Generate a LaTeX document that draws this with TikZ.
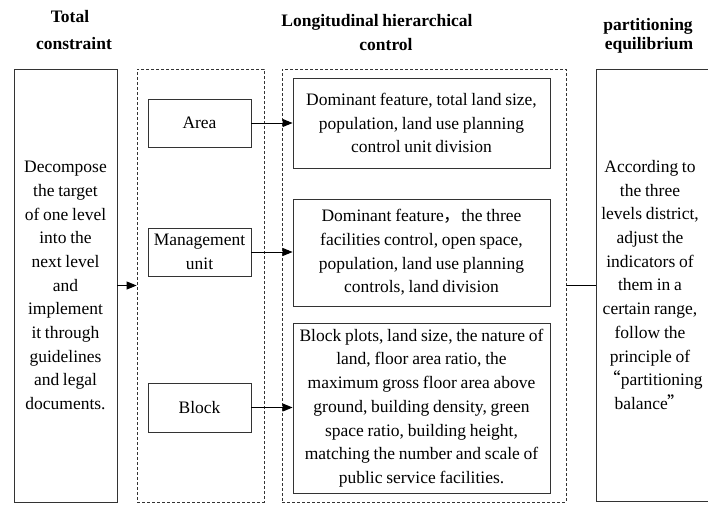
\documentclass[tikz,border=0pt]{standalone}
\usepackage{fontspec}
\setmainfont{Liberation Serif}[WordSpace=0.85]
\newfontfamily\cjkfont{Noto Sans CJK SC}[RawFeature=+fwid]
\usetikzlibrary{arrows.meta}
\begin{document}
\begin{tikzpicture}[x=1pt,y=-1pt,
  every node/.style={font=\fontsize{17.5}{23.7}\selectfont},
  box/.style={draw=black!80, line width=0.9pt, inner sep=2pt, align=center},
  cont/.style={draw=black!80, line width=0.8pt, dash pattern=on 3pt off 2pt, inner sep=0pt},
  head/.style={font=\bfseries\fontsize{17.5}{22}\selectfont, inner sep=0pt},
  arr/.style={draw=black, line width=0.9pt, -{Triangle[length=10pt,width=8pt]}},
  link/.style={draw=black, line width=0.9pt}
]
\useasboundingbox (0,0) rectangle (708,504);
\clip (0,0) rectangle (708,504);

% headers
\node[head, anchor=base] (h1a) at (70,22) {Total};
\node[head, anchor=base] (h1b) at (74,49) {constraint};
\node[head, anchor=base] (h2a) at (377,26) {Longitudinal hierarchical};
\node[head, anchor=base] (h2b) at (386,50) {control};
\node[head, anchor=base] (h3a) at (648,30) {partitioning};
\node[head, anchor=base] (h3b) at (649,49) {equilibrium};

% left box
\node[box, minimum width=103pt, minimum height=433pt] (lbox) at (65.5,285.5)
  {Decompose\\the target\\of one level\\into the\\next level\\and\\implement\\it through\\guidelines\\and legal\\documents.};

% dashed containers
\node[cont, minimum width=127pt, minimum height=433pt] (d1) at (200.5,285.5) {};
\node[cont, minimum width=284pt, minimum height=433pt] (d2) at (424,285.5) {};

% level boxes
\node[box, minimum width=103pt, minimum height=48pt] (area) at (199.5,123) {Area};
\node[box, minimum width=103pt, minimum height=48pt] (mgmt) at (199.5,252) {Management\\unit};
\node[box, minimum width=103pt, minimum height=49pt] (block) at (199.5,407.5) {Block};

% content boxes
\node[box, minimum width=257pt, minimum height=90pt] (t1) at (421.5,123)
  {Dominant feature, total land size,\\population, land use planning\\control unit division};
\node[box, minimum width=257pt, minimum height=107pt] (t2) at (421.5,252.5)
  {Dominant feature{\cjkfont ，}the three\\facilities control, open space,\\population, land use planning\\controls, land division};
\node[box, minimum width=257pt, minimum height=170pt] (t3) at (421.5,408)
  {Block plots, land size, the nature of\\land, floor area ratio, the\\maximum gross floor area above\\ground, building density, green\\space ratio, building height,\\matching the number and scale of\\public service facilities.};

% right box
\node[box, minimum width=130pt, minimum height=432pt] (rbox) at (661,285) {};
\node[align=center, inner sep=0pt] (rtext) at (650,285)
  {According to\\the three\\levels district,\\adjust the\\indicators of\\them in a\\certain range,\\follow the\\principle of\\\hspace*{6pt}{\cjkfont “}partitioning\\balance{\cjkfont ”}};

% connectors
\draw[arr] (lbox.east) -- (lbox.east -| d1.west);
\draw[arr] (area.east) -- (area.east -| t1.west);
\draw[arr] (mgmt.east) -- (mgmt.east -| t2.west);
\draw[arr] (block.east) -- (block.east -| t3.west);
\draw[link] (d2.east) -- (d2.east -| rbox.west);
\end{tikzpicture}
\end{document}
